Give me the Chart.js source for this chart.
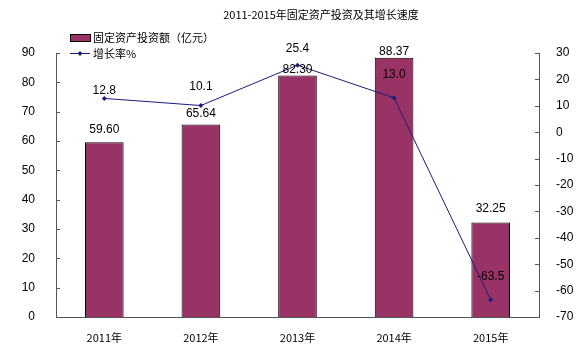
<!DOCTYPE html>
<html>
<head>
<meta charset="utf-8">
<script src="https://cdn.jsdelivr.net/npm/chart.js@4/dist/chart.umd.min.js"></script>
<style>
html,body{margin:0;padding:0;background:#fff;}
#wrap{width:580px;height:356px;position:relative;}
</style>
</head>
<body>
<div id="wrap"><canvas id="c" width="580" height="356"></canvas></div>
<script>
const categories = ["2011年", "2012年", "2013年", "2014年", "2015年"];
const investment = [59.60, 65.64, 82.30, 88.37, 32.25];
const growthRate = [12.8, 10.1, 25.4, 13.0, -63.5];
const seriesNames = ["固定资产投资额（亿元）", "增长率%"];
const titleText = "2011-2015年固定资产投资及其增长速度";
const barLabelLift = [12, 11, 6, 6, 14];
const lineLabelLift = [8, 19, 16, 23, 23];

const BAR = "#993366";
const LINE = "#1c1c7a";
const NUMFONT = "12px 'Liberation Sans', Arial, sans-serif";
const CJK = "'Noto Sans CJK SC', 'Liberation Sans', sans-serif";

const decor = {
  id: 'decor',
  afterDraw(chart) {
    const ctx = chart.ctx;
    const ca = chart.chartArea;
    ctx.save();
    // title
    ctx.fillStyle = '#000';
    ctx.font = "11px " + CJK;
    ctx.textAlign = 'center';
    ctx.textBaseline = 'middle';
    ctx.fillText(titleText, 321, 15);
    // legend
    ctx.fillStyle = BAR;
    ctx.strokeStyle = '#000';
    ctx.lineWidth = 1;
    ctx.fillRect(70.5, 34.5, 20, 7);
    ctx.strokeRect(70.5, 34.5, 20, 7);
    ctx.fillStyle = '#000';
    ctx.textAlign = 'left';
    ctx.font = "11px " + CJK;
    ctx.fillText(seriesNames[0], 93, 38);
    ctx.strokeStyle = LINE;
    ctx.beginPath(); ctx.moveTo(70, 53.5); ctx.lineTo(90, 53.5); ctx.stroke();
    ctx.fillStyle = LINE;
    ctx.beginPath(); ctx.moveTo(80, 51); ctx.lineTo(82.5, 53.5); ctx.lineTo(80, 56); ctx.lineTo(77.5, 53.5); ctx.closePath(); ctx.fill();
    ctx.fillStyle = '#000';
    ctx.fillText(seriesNames[1], 93, 54);
    // inner ticks
    ctx.strokeStyle = '#555';
    const y = chart.scales.y, y1 = chart.scales.y1;
    y.ticks.forEach((t, i) => {
      const p = Math.round(y.getPixelForTick(i)) + 0.5;
      ctx.beginPath(); ctx.moveTo(ca.left, p); ctx.lineTo(ca.left + 4, p); ctx.stroke();
    });
    y1.ticks.forEach((t, i) => {
      const p = Math.round(y1.getPixelForTick(i)) + 0.5;
      ctx.beginPath(); ctx.moveTo(ca.right - 4, p); ctx.lineTo(ca.right, p); ctx.stroke();
    });
    // data labels
    ctx.font = NUMFONT;
    ctx.fillStyle = '#000';
    ctx.textAlign = 'center';
    ctx.textBaseline = 'middle';
    const barIdx = chart.data.datasets.findIndex(d => d.type === 'bar');
    const lineIdx = chart.data.datasets.findIndex(d => d.type === 'line');
    chart.getDatasetMeta(barIdx).data.forEach((el, i) => {
      ctx.fillText(investment[i].toFixed(2), el.x, el.y - barLabelLift[i]);
    });
    chart.getDatasetMeta(lineIdx).data.forEach((el, i) => {
      ctx.fillText(growthRate[i].toFixed(1), el.x, el.y - lineLabelLift[i]);
    });
    ctx.restore();
  }
};

new Chart(document.getElementById('c'), {
  data: {
    labels: categories,
    datasets: [
      {
        type: 'line', label: seriesNames[1], data: growthRate, yAxisID: 'y1',
        borderColor: LINE, borderWidth: 1, backgroundColor: LINE,
        pointStyle: 'rectRot', pointRadius: 2.5, pointBorderWidth: 0,
        tension: 0, order: 0
      },
      {
        type: 'bar', label: seriesNames[0], data: investment, yAxisID: 'y',
        backgroundColor: BAR, borderColor: '#000', borderWidth: 1,
        barPercentage: 0.4, categoryPercentage: 1, order: 1
      }
    ]
  },
  options: {
    responsive: false,
    animation: false,
    layout: { padding: { top: 53, left: 0, right: 0, bottom: 0 } },
    plugins: { legend: { display: false }, title: { display: false }, tooltip: { enabled: false } },
    scales: {
      x: {
        grid: { display: false },
        border: { display: true, color: '#555' },
        ticks: { color: '#000', font: { family: CJK, size: 11 }, padding: 6, maxRotation: 0 },
        afterFit: s => { s.height = 39; }
      },
      y: {
        position: 'left', min: 0, max: 90,
        grid: { display: false },
        border: { display: true, color: '#555' },
        ticks: { stepSize: 10, color: '#000', font: { family: "'Liberation Sans', Arial, sans-serif", size: 12 }, padding: 13 },
        afterFit: s => { s.width = 56; }
      },
      y1: {
        position: 'right', min: -70, max: 30,
        grid: { display: false },
        border: { display: true, color: '#555' },
        ticks: { stepSize: 10, color: '#000', font: { family: "'Liberation Sans', Arial, sans-serif", size: 12 }, padding: 9 },
        afterFit: s => { s.width = 41; }
      }
    }
  },
  plugins: [decor]
});
</script>
</body>
</html>
